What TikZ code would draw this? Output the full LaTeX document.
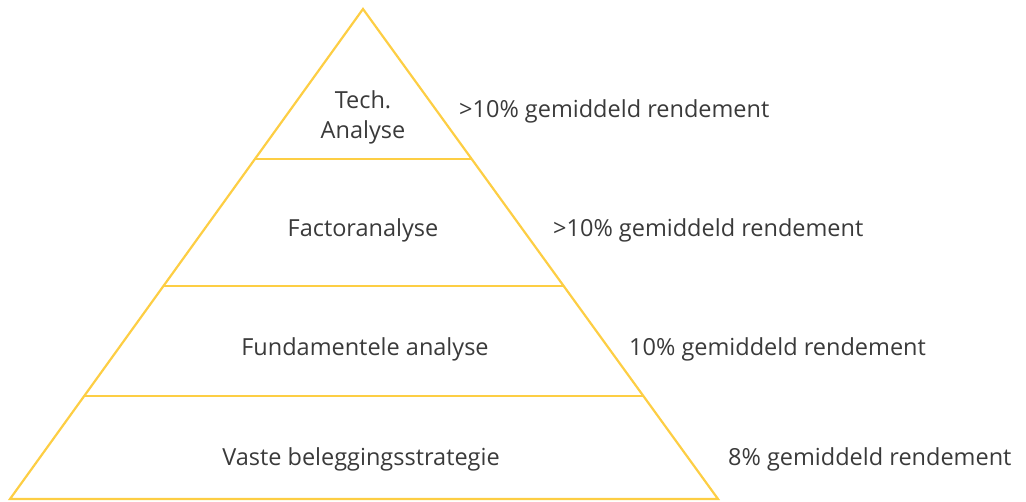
\documentclass[tikz,border=0pt]{standalone}
\usepackage{fontspec}
\setmainfont{Open Sans}
\usepackage{tikz}
\usetikzlibrary{calc}
\definecolor{pyrgold}{RGB}{253,206,68}
\definecolor{textgray}{RGB}{58,58,58}
\tikzset{
  edge/.style={draw=pyrgold,line width=2.2pt,line join=miter},
  tier/.style={font=\fontsize{23.5}{30}\selectfont,text=textgray,align=center,inner sep=0pt},
  gain/.style={font=\fontsize{23.5}{28}\selectfont,text=textgray,anchor=west,inner sep=0pt}
}
\begin{document}
\begin{tikzpicture}[x=1pt,y=-1pt]
\useasboundingbox (0,0) rectangle (1026,501);
% pyramid outline
\coordinate (apex) at (363,9);
\coordinate (bl) at (10,499);
\coordinate (br) at (718,499);
\draw[edge] (apex) -- (bl) -- (br) -- cycle;
% dividing lines
\foreach \t/\n in {0.306/a,0.565/b,0.790/c}{
  \coordinate (l\n) at ($(apex)!\t!(bl)$);
  \coordinate (r\n) at ($(apex)!\t!(br)$);
  \draw[edge] (l\n) -- (r\n);
}
% tier labels
\node[tier] (tech) at (363,117) {Tech.\\Analyse};
\node[tier] (factor) at (363,230) {Factoranalyse};
\node[tier] (fund) at (365,349) {Fundamentele analyse};
\node[tier] (vaste) at (361,459) {Vaste beleggingsstrategie};
% returns
\node[gain] (g1) at (459,111) {>10\% gemiddeld rendement};
\node[gain] (g2) at (553,230) {>10\% gemiddeld rendement};
\node[gain] (g3) at (629,349) {10\% gemiddeld rendement};
\node[gain] (g4) at (728,459) {8\% gemiddeld rendement};
\end{tikzpicture}
\end{document}
